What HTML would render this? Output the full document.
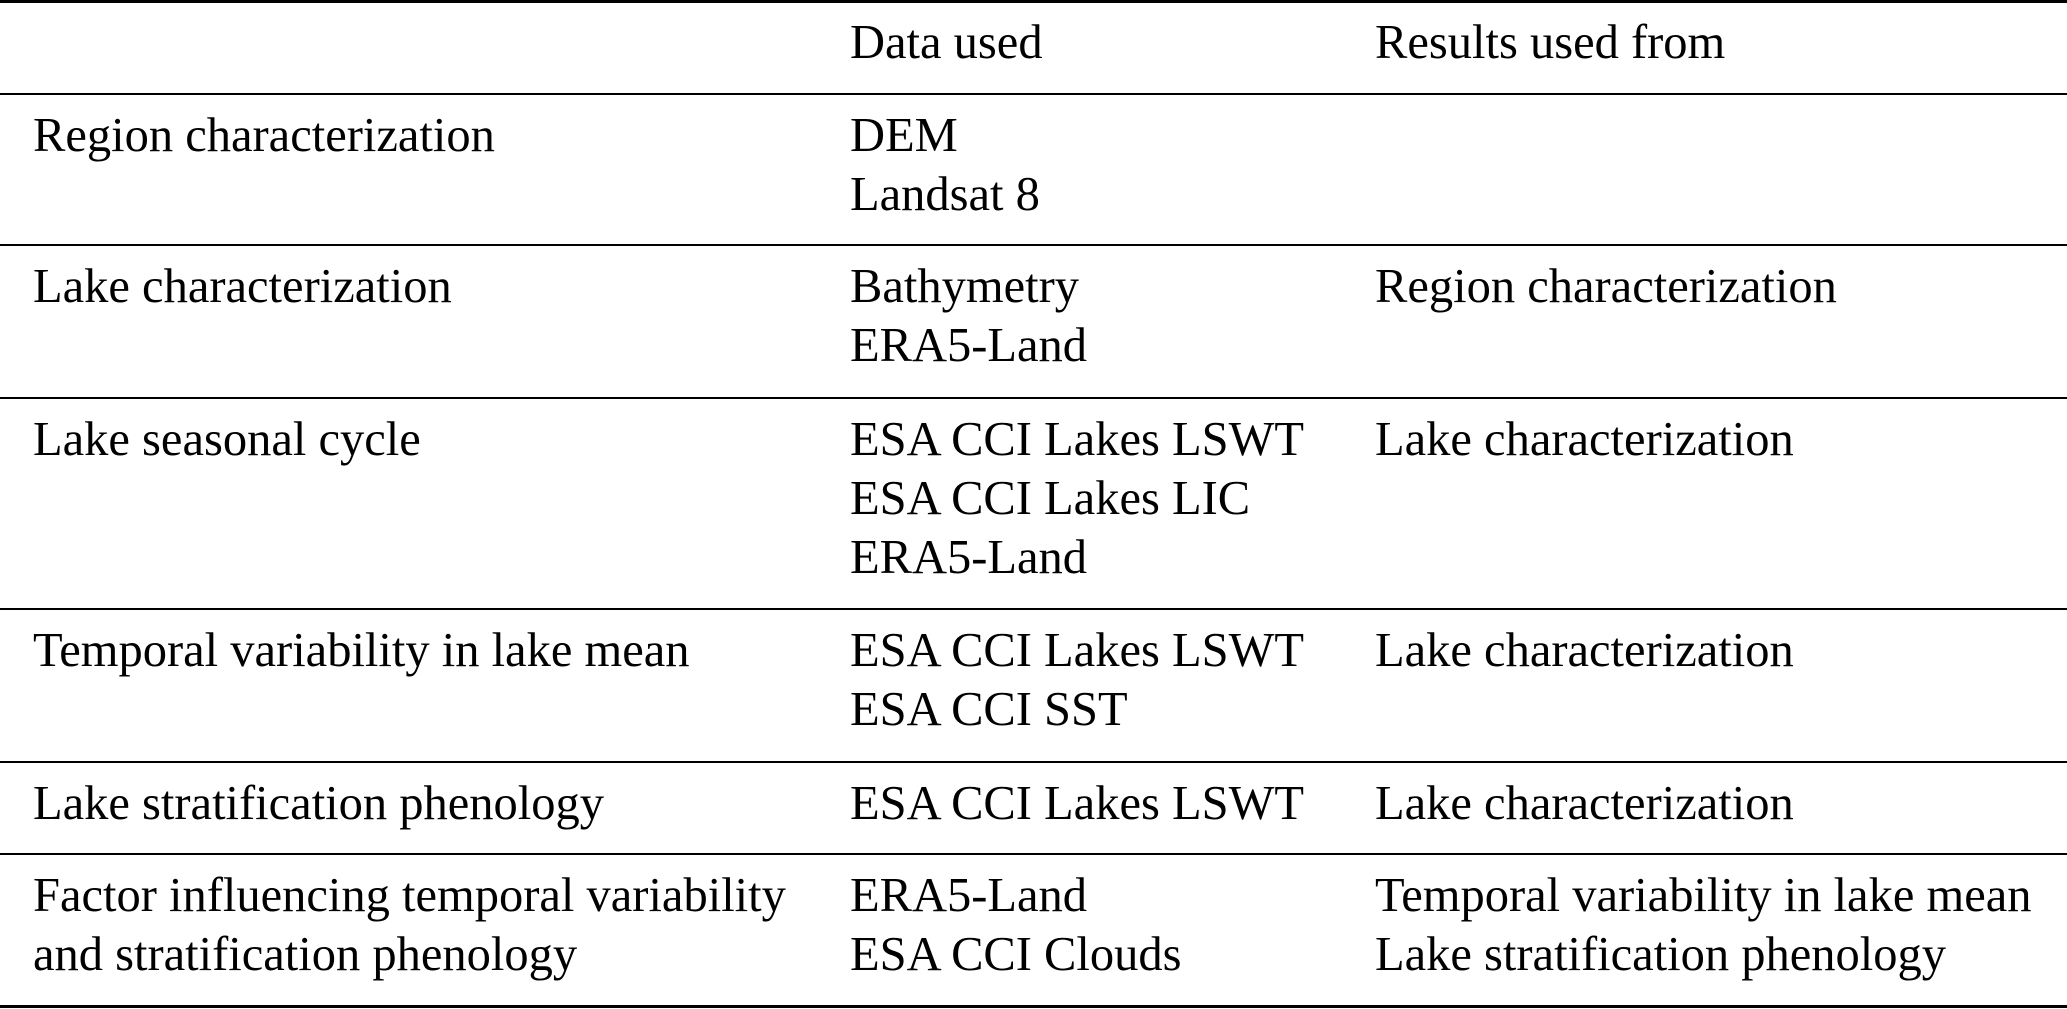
<!DOCTYPE html>
<html><head><style>
body{margin:0;width:2067px;height:1009px;background:#fff;position:relative;overflow:hidden;font-family:"Liberation Serif",serif;font-size:48.5px;color:#000}
.r{position:absolute;left:0;width:2067px;height:2px;background:#000}
.t{position:absolute;line-height:59px;white-space:nowrap}
</style></head><body>
<div class="r" style="top:0;height:3px"></div>
<div class="r" style="top:93px"></div>
<div class="r" style="top:244px"></div>
<div class="r" style="top:397px"></div>
<div class="r" style="top:608px"></div>
<div class="r" style="top:761px"></div>
<div class="r" style="top:853px"></div>
<div class="r" style="top:1005px;height:3px"></div>

<div class="t" style="left:850px;top:13px">Data used</div>
<div class="t" style="left:1375px;top:13px">Results used from</div>

<div class="t" style="left:33px;top:106px">Region characterization</div>
<div class="t" style="left:850px;top:106px">DEM<br>Landsat 8</div>

<div class="t" style="left:33px;top:257px">Lake characterization</div>
<div class="t" style="left:850px;top:257px">Bathymetry<br>ERA5-Land</div>
<div class="t" style="left:1375px;top:257px">Region characterization</div>

<div class="t" style="left:33px;top:410px">Lake seasonal cycle</div>
<div class="t" style="left:850px;top:410px">ESA CCI Lakes LSWT<br>ESA CCI Lakes LIC<br>ERA5-Land</div>
<div class="t" style="left:1375px;top:410px">Lake characterization</div>

<div class="t" style="left:33px;top:621px">Temporal variability in lake mean</div>
<div class="t" style="left:850px;top:621px">ESA CCI Lakes LSWT<br>ESA CCI SST</div>
<div class="t" style="left:1375px;top:621px">Lake characterization</div>

<div class="t" style="left:33px;top:774px">Lake stratification phenology</div>
<div class="t" style="left:850px;top:774px">ESA CCI Lakes LSWT</div>
<div class="t" style="left:1375px;top:774px">Lake characterization</div>

<div class="t" style="left:33px;top:866px">Factor influencing temporal variability<br>and stratification phenology</div>
<div class="t" style="left:850px;top:866px">ERA5-Land<br>ESA CCI Clouds</div>
<div class="t" style="left:1375px;top:866px">Temporal variability in lake mean<br>Lake stratification phenology</div>
</body></html>
